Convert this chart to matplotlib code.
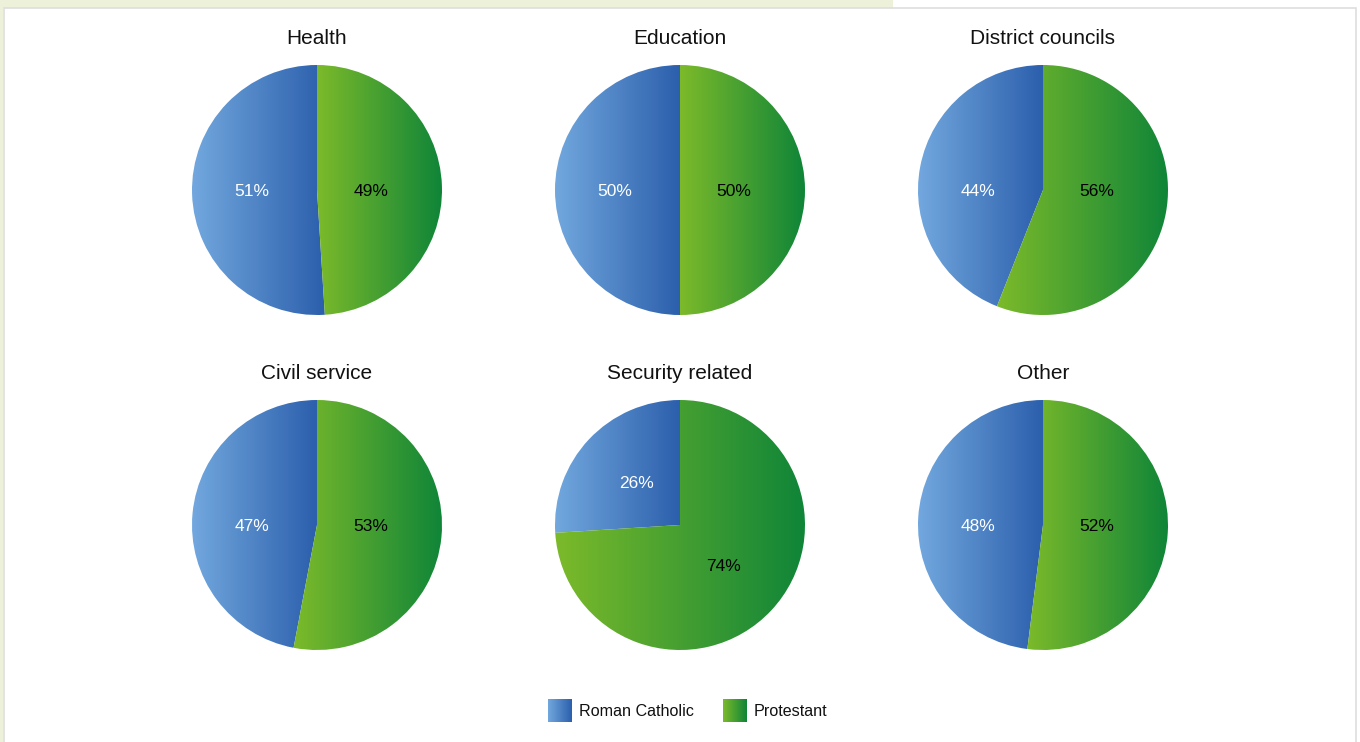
"""Six pies: Roman Catholic vs Protestant share by sector, gradient-filled."""
import matplotlib
matplotlib.use("Agg")
import matplotlib.pyplot as plt
import numpy as np
from matplotlib.colors import LinearSegmentedColormap
from matplotlib.patches import Rectangle

plt.rcParams["font.family"] = ["Liberation Sans", "DejaVu Sans"]

# data
sectors = ["Health", "Education", "District councils",
           "Civil service", "Security related", "Other"]
roman_catholic = [51, 50, 44, 47, 26, 48]
protestant = [49, 50, 56, 53, 74, 52]
series_names = ["Roman Catholic", "Protestant"]

W, H = 1360, 742
BLUE = LinearSegmentedColormap.from_list("rc", ["#72a8de", "#2c5fac"])
GREEN = LinearSegmentedColormap.from_list("pr", ["#7cba2a", "#0f8538"])
CMAPS = [BLUE, GREEN]
LABEL_COLORS = ["white", "black"]
GRAD = np.linspace(0, 1, 256).reshape(1, -1)

fig = plt.figure(figsize=(W / 100, H / 100), dpi=100, facecolor="white")

# page background: beige strip top-left, white panel with light border
fig.patches.append(Rectangle((0, 1 - 8 / H), 893 / W, 8 / H,
                             transform=fig.transFigure, facecolor="#edf1da",
                             edgecolor="none", zorder=-10))
fig.patches.append(Rectangle((0, 0), 3 / W, 1, transform=fig.transFigure,
                             facecolor="#edf1da", edgecolor="none", zorder=-10))
fig.patches.append(Rectangle((3.5 / W, -0.01), 1352 / W, 1 - 7.5 / H + 0.01,
                             transform=fig.transFigure, facecolor="white",
                             edgecolor="#dedede", linewidth=1.2, zorder=-9))

centers_x = [317, 680, 1043]
centers_y = [190, 525]
R = 125

for i, name in enumerate(sectors):
    cx = centers_x[i % 3]
    cy = centers_y[i // 3]
    ax = fig.add_axes([(cx - R) / W, 1 - (cy + R) / H, 2 * R / W, 2 * R / H])
    vals = [roman_catholic[i], protestant[i]]
    wedges, _, autotexts = ax.pie(
        vals, startangle=90, counterclock=True, radius=1,
        autopct=lambda p: f"{p:.0f}%", pctdistance=0.48,
        wedgeprops=dict(linewidth=0, edgecolor="none"),
        textprops=dict(fontsize=12.5),
    )
    near_half = abs(vals[0] - vals[1]) < 20
    for w, cmap, t, col, side in zip(wedges, CMAPS, autotexts,
                                     LABEL_COLORS, (-0.52, 0.43)):
        bb = w.get_path().get_extents()
        w.set_facecolor("none")
        im = ax.imshow(GRAD, cmap=cmap, aspect="auto", interpolation="bilinear",
                       extent=[bb.x0, bb.x1, -1.0, 1.0], zorder=1)
        im.set_clip_path(w)
        t.set_color(col)
        t.set_zorder(3)
        if near_half:
            # labels sit on the horizontal mid line, as in the source chart
            t.set_position((side, -0.015))
    ax.set_xlim(-1, 1)
    ax.set_ylim(-1, 1)
    ax.set_aspect("equal")
    ax.axis("off")
    ax.text(0, 1.21, name, ha="center", va="center", fontsize=15,
            color="#111111")

# legend with gradient keys
lax = fig.add_axes([0, 0, 1, 1], zorder=-1)
lax.patch.set_visible(False)
key_x = [548, 723]
for kx, cmap, label in zip(key_x, CMAPS, series_names):
    lax.imshow(GRAD, cmap=cmap, aspect="auto", interpolation="bilinear",
               extent=[kx, kx + 24, 722, 699])
    lax.text(kx + 31, 711, label, ha="left", va="center", fontsize=11.6,
             color="#111111")
lax.set_xlim(0, W)
lax.set_ylim(H, 0)
lax.axis("off")

fig.savefig("out.png", dpi=100, facecolor=fig.get_facecolor())
